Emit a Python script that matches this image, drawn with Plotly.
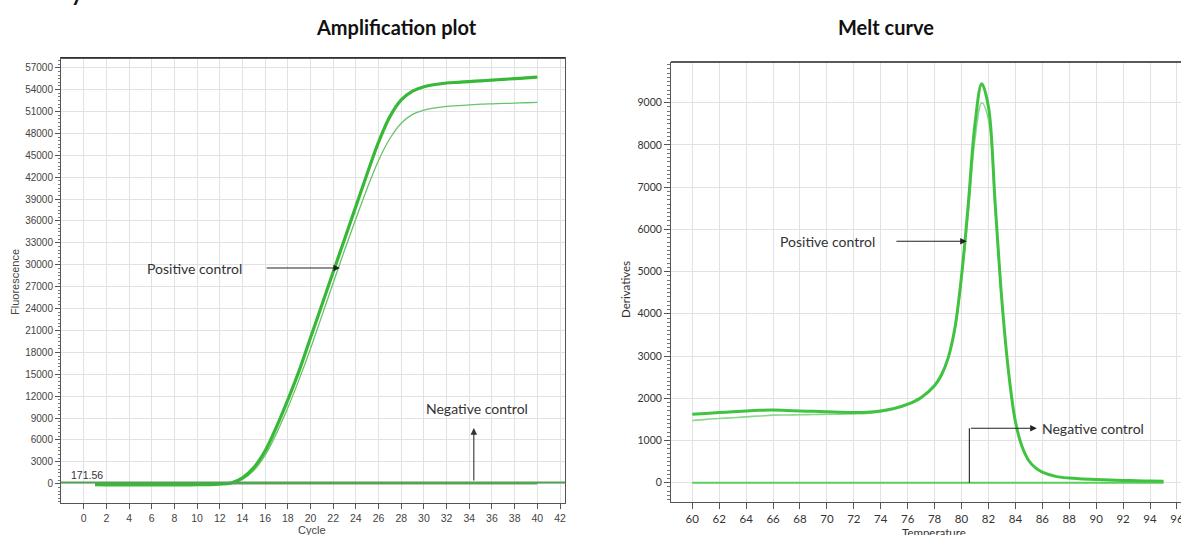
import plotly.graph_objects as go

# ---------------- data ----------------
cycles = [1, 2, 3, 4, 5, 6, 7, 8, 9, 10, 11, 12, 13, 14, 15, 16, 17, 18, 19, 20,
          21, 22, 23, 24, 25, 26, 27, 28, 29, 30, 31, 32, 33, 34, 35, 36, 37, 38, 39, 40]
pos_amp_1 = [-120, -150, -160, -170, -170, -170, -160, -160, -150, -140, -120, -60, 100, 800,
             2200, 4500, 7800, 11500, 15500, 20000, 24500, 29000, 33500, 38000, 42500, 46800,
             50300, 52600, 53800, 54400, 54700, 54900, 55000, 55100, 55200, 55300, 55400,
             55500, 55600, 55700]
pos_amp_2 = [-120, -150, -160, -170, -170, -170, -160, -160, -150, -140, -120, -70, 50, 600,
             1800, 3900, 6900, 10400, 14300, 18500, 23000, 27500, 32000, 36300, 40500, 44300,
             47300, 49400, 50600, 51200, 51500, 51700, 51800, 51900, 52000, 52050, 52100,
             52150, 52200, 52250]
neg_amp = [0, 0, 0, 0, 0, 0, 0, 0, 0, 0, 0, 0, 0, 0, 0, 0, 0, 0, 0, 0,
           0, 0, 0, 0, 0, 0, 0, 0, 0, 0, 0, 0, 0, 0, 0, 0, 0, 0, 0, 0]
threshold = 171.56

temps = [60, 61, 62, 63, 64, 65, 66, 67, 68, 69, 70, 71, 72, 73, 74, 75, 76, 77, 78, 78.5,
         79, 79.5, 80, 80.5, 81, 81.5, 82, 82.5, 83, 83.5, 84, 84.5, 85, 85.5, 86, 87, 88,
         89, 90, 91, 92, 93, 94, 95]
pos_melt_1 = [1620, 1640, 1660, 1680, 1700, 1715, 1720, 1710, 1700, 1690, 1680, 1670, 1665,
              1670, 1700, 1760, 1860, 2020, 2300, 2550, 2950, 3650, 4900, 6600, 8500, 9450,
              8900, 6600, 4300, 2600, 1450, 850, 520, 350, 250, 150, 110, 90, 75, 65, 55, 45,
              40, 35]
pos_melt_2 = [1470, 1500, 1520, 1540, 1560, 1580, 1600, 1605, 1610, 1615, 1620, 1625, 1630,
              1640, 1680, 1740, 1840, 2000, 2280, 2520, 2920, 3600, 4800, 6400, 8150, 9000,
              8600, 6450, 4250, 2580, 1440, 845, 515, 345, 245, 148, 108, 88, 74, 64, 54, 44,
              39, 34]
neg_melt = [0, 0, 0, 0, 0, 0, 0, 0, 0, 0, 0, 0, 0, 0, 0, 0, 0, 0, 0, 0, 0, 0,
            0, 0, 0, 0, 0, 0, 0, 0, 0, 0, 0, 0, 0, 0, 0, 0, 0, 0, 0, 0, 0, 0]

amp_yticks = [0, 3000, 6000, 9000, 12000, 15000, 18000, 21000, 24000, 27000, 30000, 33000,
              36000, 39000, 42000, 45000, 48000, 51000, 54000, 57000]
amp_xticks = [0, 2, 4, 6, 8, 10, 12, 14, 16, 18, 20, 22, 24, 26, 28, 30, 32, 34, 36, 38, 40, 42]
melt_yticks = [0, 1000, 2000, 3000, 4000, 5000, 6000, 7000, 8000, 9000, 10000]
melt_xticks = [60, 62, 64, 66, 68, 70, 72, 74, 76, 78, 80, 82, 84, 86, 88, 90, 92, 94, 96]

# ---------------- figure ----------------
W, H = 1181, 535
fig = go.Figure()

fig.add_trace(go.Scatter(x=cycles, y=neg_amp, mode="lines", line=dict(color="rgb(90,170,90)", width=1.5),
                         xaxis="x", yaxis="y", showlegend=False))
fig.add_trace(go.Scatter(x=cycles, y=pos_amp_2, mode="lines", line=dict(color="rgb(105,195,105)", width=1.3, shape="spline"),
                         xaxis="x", yaxis="y", showlegend=False))
fig.add_trace(go.Scatter(x=cycles, y=pos_amp_1, mode="lines", line=dict(color="rgb(55,185,55)", width=3.2, shape="spline"),
                         xaxis="x", yaxis="y", showlegend=False))

fig.add_trace(go.Scatter(x=temps, y=neg_melt, mode="lines", line=dict(color="rgb(90,205,90)", width=2),
                         xaxis="x2", yaxis="y2", showlegend=False))
fig.add_trace(go.Scatter(x=temps, y=pos_melt_2, mode="lines", line=dict(color="rgb(140,215,140)", width=1.6, shape="spline"),
                         xaxis="x2", yaxis="y2", showlegend=False))
fig.add_trace(go.Scatter(x=temps, y=pos_melt_1, mode="lines", line=dict(color="rgb(65,195,65)", width=3, shape="spline"),
                         xaxis="x2", yaxis="y2", showlegend=False))

grid = "#e2e2e2"
axfont_l = dict(family="Liberation Sans, Arial", size=10, color="#444")
axfont_r = dict(family="Lato", size=10.5, color="#333")

fig.update_layout(
    width=W, height=H, margin=dict(l=0, r=0, t=0, b=0),
    paper_bgcolor="white", plot_bgcolor="white",
    xaxis=dict(domain=[61 / W, 565 / W], range=[-2, 42.44], tickvals=amp_xticks, tickformat="d",
               ticks="outside", ticklen=5, tickcolor="#555", tickfont=dict(family="Liberation Sans, Arial", size=10.5, color="#444"),
               showgrid=True, gridcolor=grid, zeroline=False, showline=True, linecolor="#555",
               mirror=True, anchor="y", automargin=False),
    yaxis=dict(domain=[1 - 503 / H, 1 - 58 / H], range=[-2640, 58330], tickvals=amp_yticks, tickformat="d",
               ticks="outside", ticklen=5, tickcolor="#555", tickfont=axfont_l,
               minor=dict(ticks="outside", ticklen=2.5, dtick=500, tickcolor="#777", showgrid=False),
               showgrid=True, gridcolor=grid, zeroline=False, showline=True, linecolor="#555",
               mirror=True, anchor="x", automargin=False),
    xaxis2=dict(domain=[671 / W, 1.0], range=[58.42, 96.3], tickvals=melt_xticks, tickformat="d",
                ticks="outside", ticklen=6, tickcolor="#555", tickfont=dict(family="Lato", size=11.5, color="#333"),
                ticklabeloverflow="allow",
                showgrid=True, gridcolor=grid, zeroline=False, showline=True, linecolor="#555",
                anchor="y2", automargin=False),
    yaxis2=dict(domain=[1 - 502 / H, 1 - 62 / H], range=[-457, 9964], tickvals=melt_yticks, tickformat="d",
                ticks="outside", ticklen=6, tickcolor="#555", tickfont=axfont_r,
                ticklabeloverflow="allow",
                minor=dict(ticks="outside", ticklen=3, dtick=100, tickcolor="#777", showgrid=False),
                showgrid=True, gridcolor=grid, zeroline=False, showline=True, linecolor="#555",
                anchor="x2", automargin=False),
)

# top borders
fig.add_shape(type="line", xref="x2 domain", yref="y2 domain", x0=0, x1=1, y0=1, y1=1,
              line=dict(color="#222", width=1.5))
fig.add_shape(type="line", xref="x domain", yref="y domain", x0=0, x1=1, y0=1, y1=1,
              line=dict(color="#222", width=1.5))

# threshold line
fig.add_shape(type="line", xref="x domain", yref="y", x0=0, x1=1, y0=threshold, y1=threshold,
              line=dict(color="rgb(85,160,85)", width=2))

ann_font = dict(family="Lato", size=14, color="#333")


def paper_text(text, px, py, font, angle=0, xa="center", ya="middle"):
    fig.add_annotation(text=text, xref="paper", yref="paper", x=px / W, y=1 - py / H, textangle=angle,
                       showarrow=False, font=font, xanchor=xa, yanchor=ya)


# titles
paper_text("<b>Amplification plot</b>", 397, 27, dict(family="Lato", size=20, color="#111"))
paper_text("<b>Melt curve</b>", 886, 27, dict(family="Lato", size=20, color="#111"))
paper_text("<b>y</b>", 77, 8, dict(family="Lato", size=22, color="#111"), ya="bottom")

# axis titles
paper_text("Fluorescence", 15, 282, dict(family="Liberation Sans, Arial", size=11, color="#444"), angle=-90)
paper_text("Cycle", 312, 530, dict(family="Liberation Sans, Arial", size=11, color="#444"))
paper_text("Derivatives", 625, 290, dict(family="Lato", size=11.5, color="#333"), angle=-90)
paper_text("Temperature", 934, 532, dict(family="Lato", size=11.5, color="#333"))

# threshold label
fig.add_annotation(text="171.56", xref="x", yref="paper", x=0.3, y=1 - 475 / H, xanchor="center", yanchor="middle",
                   showarrow=False, font=dict(family="Liberation Sans, Arial", size=10.5, color="#333"))

# amplification annotations
fig.add_annotation(text="Positive control", xref="x", yref="y", x=9.75, y=29550, showarrow=False, font=ann_font,
                   xanchor="center", yanchor="middle")
fig.add_annotation(x=22.6, y=29550, ax=16.0, ay=29550, xref="x", yref="y", axref="x", ayref="y",
                   text="", showarrow=True, arrowhead=2, arrowsize=1.2, arrowwidth=1.1, arrowcolor="#222")
fig.add_annotation(text="Negative control", xref="x", yref="y", x=34.7, y=10370, showarrow=False, font=ann_font,
                   xanchor="center", yanchor="middle")
fig.add_annotation(x=34.4, y=7630, ax=34.4, ay=230, xref="x", yref="y", axref="x", ayref="y",
                   text="", showarrow=True, arrowhead=2, arrowsize=1.2, arrowwidth=1.1, arrowcolor="#333")

# melt annotations
fig.add_annotation(text="Positive control", xref="x2", yref="y2", x=70.08, y=5720, showarrow=False, font=ann_font,
                   xanchor="center", yanchor="middle")
fig.add_annotation(x=80.39, y=5720, ax=75.05, ay=5720, xref="x2", yref="y2", axref="x2", ayref="y2",
                   text="", showarrow=True, arrowhead=2, arrowsize=1.2, arrowwidth=1.1, arrowcolor="#222")
fig.add_shape(type="line", xref="x2", yref="y2", x0=80.58, x1=80.58, y0=0, y1=1290,
              line=dict(color="#222", width=1.1))
fig.add_annotation(x=85.59, y=1290, ax=80.58, ay=1290, xref="x2", yref="y2", axref="x2", ayref="y2",
                   text="", showarrow=True, arrowhead=2, arrowsize=1.2, arrowwidth=1.1, arrowcolor="#222")
fig.add_annotation(text="Negative control", xref="x2", yref="y2", x=85.83, y=1290, xanchor="left", yanchor="middle",
                   showarrow=False, font=ann_font)

fig.write_html("out.html", config={"displayModeBar": False},
               post_script="document.body.style.margin='0';document.body.style.overflow='hidden';")
